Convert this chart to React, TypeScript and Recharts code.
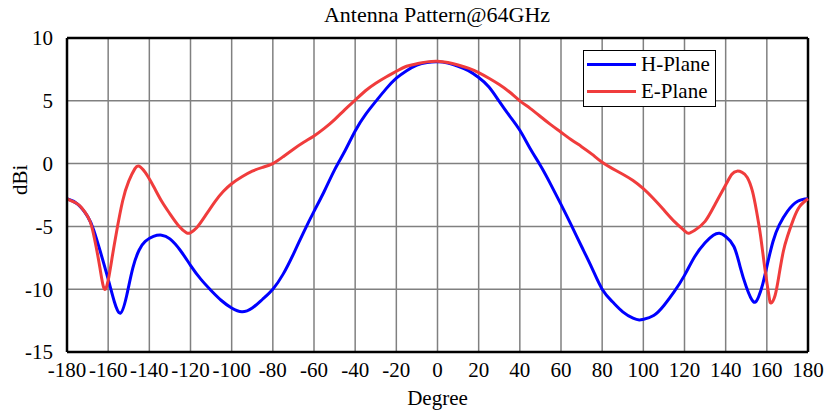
import React from "react";
import {
  LineChart,
  Line,
  XAxis,
  YAxis,
  CartesianGrid,
  ReferenceLine,
  Label,
} from "recharts";

const xTicks = [-180, -160, -140, -120, -100, -80, -60, -40, -20, 0, 20, 40, 60, 80, 100, 120, 140, 160, 180];
const yTicks = [-15, -10, -5, 0, 5, 10];

const hDeg = [
  -180, -175, -170, -167, -164, -160, -157, -154, -151, -148, -145, -142, -138, -134, -130, -125, -120,
  -115, -110, -105, -100, -95, -90, -85, -80, -75, -70, -65, -60, -55, -50, -45, -40, -35, -30, -25,
  -20, -15, -10, -5, 0, 5, 10, 15, 20, 25, 30, 35, 40, 45, 50, 55, 60, 65, 70, 75, 80, 85, 90, 95, 98,
  100, 105, 110, 115, 120, 125, 130, 134, 137, 140, 144, 147, 150, 153.5, 156, 158, 160, 163, 166, 170,
  175, 180,
];
const hPlane = [
  -2.8, -3.2, -4.2, -5.3, -6.9, -9.2, -11.0, -11.9, -10.5, -8.3, -6.9, -6.2, -5.8, -5.7, -6.0, -6.9, -8.1,
  -9.2, -10.1, -10.9, -11.5, -11.8, -11.5, -10.8, -10.0, -8.8, -7.2, -5.45, -3.8, -2.2, -0.5, 1.0, 2.6, 3.9,
  4.95, 5.95, 6.8, 7.4, 7.85, 8.05, 8.1, 8.0, 7.75, 7.4, 6.85, 6.1, 4.95, 3.8, 2.65, 1.2, -0.15, -1.65, -3.25, -4.9,
  -6.6, -8.3, -10.0, -11.0, -11.8, -12.3, -12.45, -12.4, -12.1, -11.3, -10.2, -8.9, -7.4, -6.3, -5.7, -5.55,
  -5.8, -6.6, -8.2, -9.8, -11.0, -10.6, -9.6, -8.2, -6.2, -4.9, -3.8, -3.0, -2.8,
];

const eDeg = [
  -180, -176, -173, -170, -168, -166, -164, -162, -160, -158, -156, -153, -150, -147, -145, -142, -138,
  -134, -130, -126, -122, -120, -117, -113, -108, -104, -100, -95, -90, -85, -80, -75, -70, -65, -60, -55,
  -50, -45, -40, -35, -30, -25, -20, -15, -10, -5, 0, 5, 10, 15, 20, 25, 30, 35, 40, 45, 50, 55, 60, 65,
  70, 75, 80, 85, 90, 95, 100, 105, 110, 115, 120, 122, 125, 130, 135, 140, 143, 145.5, 148, 150.5, 153,
  155, 157, 159, 161, 162, 164, 166, 168, 170, 173, 176, 180,
];
const ePlane = [
  -2.8, -3.1, -3.5, -4.2, -5.0, -6.5, -8.3, -9.95, -9.3, -7.4, -5.5, -3.0, -1.4, -0.4, -0.2, -0.7, -1.8,
  -3.0, -4.0, -4.9, -5.5, -5.5, -5.1, -4.2, -3.0, -2.2, -1.6, -1.05, -0.6, -0.3, 0.0, 0.55, 1.15, 1.7, 2.2,
  2.8, 3.5, 4.3, 5.05, 5.8, 6.4, 6.9, 7.35, 7.75, 7.95, 8.1, 8.15, 8.05, 7.85, 7.6, 7.25, 6.8, 6.3, 5.7, 5.0,
  4.4, 3.75, 3.1, 2.5, 1.9, 1.35, 0.75, 0.1, -0.4, -0.85, -1.35, -2.0, -2.8, -3.7, -4.6, -5.35, -5.55, -5.3,
  -4.6, -3.2, -1.7, -0.85, -0.6, -0.7, -1.1, -2.2, -3.8, -5.8, -8.3, -10.5, -11.1, -10.5, -8.8, -7.0, -5.8,
  -4.4, -3.4, -2.8,
];

const hData = hDeg.map((d, i) => ({ deg: d, val: hPlane[i] }));
const eData = eDeg.map((d, i) => ({ deg: d, val: ePlane[i] }));

const font = '"Liberation Serif", "Times New Roman", serif';
const BLUE = "#0000ff";
const RED = "#f03c3c";

export default function App() {
  return (
    <div style={{ position: "fixed", left: 0, top: 0, width: 836, height: 418, background: "#fff" }}>
      <div
        style={{
          position: "absolute",
          top: 2,
          left: 0,
          width: 874,
          textAlign: "center",
          fontFamily: font,
          fontSize: 22,
        }}
      >
        Antenna Pattern@64GHz
      </div>
      <LineChart
        width={836}
        height={418}
        margin={{ top: 38, right: 28, bottom: 0, left: 0 }}
        style={{ fontFamily: font }}
      >
        <CartesianGrid stroke="#808080" strokeWidth={1.5} vertical horizontal />
        <XAxis
          type="number"
          dataKey="deg"
          domain={[-180, 180]}
          ticks={xTicks}
          interval={0}
          tickLine={false}
          axisLine={{ stroke: "#000", strokeWidth: 2.5 }}
          tick={{ fill: "#000", fontSize: 21 }}
          tickMargin={4}
          height={66}
        >
          <Label value="Degree" position="insideBottom" offset={13} style={{ fill: "#000", fontSize: 21 }} />
        </XAxis>
        <YAxis
          type="number"
          domain={[-15, 10]}
          ticks={yTicks}
          interval={0}
          tickLine={false}
          axisLine={{ stroke: "#000", strokeWidth: 2.5 }}
          tick={{ fill: "#000", fontSize: 21 }}
          tickMargin={8}
          width={67}
        >
          <Label value="dBi" angle={-90} position="insideLeft" offset={20} style={{ fill: "#000", fontSize: 21 }} />
        </YAxis>
        <ReferenceLine x={180} stroke="#000" strokeWidth={2.5} />
        <ReferenceLine y={10} stroke="#000" strokeWidth={2.5} />
        <Line
          data={hData}
          dataKey="val"
          name="H-Plane"
          type="natural"
          stroke={BLUE}
          strokeWidth={3}
          dot={false}
          isAnimationActive={false}
        />
        <Line
          data={eData}
          dataKey="val"
          name="E-Plane"
          type="natural"
          stroke={RED}
          strokeWidth={3}
          dot={false}
          isAnimationActive={false}
        />
      </LineChart>
      <div
        style={{
          position: "absolute",
          left: 583,
          top: 50,
          width: 131,
          height: 55,
          border: "1.5px solid #000",
          background: "#fff",
          fontFamily: font,
          fontSize: 21,
        }}
      >
        {[
          { name: "H-Plane", color: BLUE },
          { name: "E-Plane", color: RED },
        ].map((it) => (
          <div key={it.name} style={{ display: "flex", alignItems: "center", height: 27 }}>
            <div style={{ width: 49, height: 3, background: it.color, marginLeft: 3, marginRight: 5 }} />
            <span>{it.name}</span>
          </div>
        ))}
      </div>
    </div>
  );
}
